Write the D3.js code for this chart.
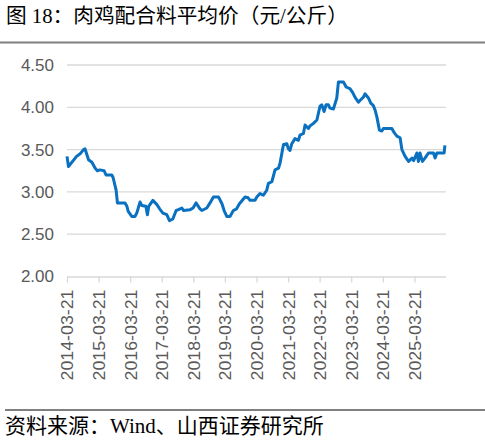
<!DOCTYPE html>
<html><head><meta charset="utf-8">
<script src="https://cdn.jsdelivr.net/npm/d3@7"></script>
<style>body{margin:0;background:#fff}svg{display:block}</style>
</head><body>
<script>
const dates = ["2014-03-21","2014-04-07","2014-07-10","2014-08-20","2014-09-28","2014-10-15","2014-11-25","2015-01-03","2015-02-10","2015-03-07","2015-04-05","2015-05-24","2015-06-15","2015-08-21","2015-09-05","2015-10-10","2015-10-25","2016-01-21","2016-02-12","2016-02-27","2016-04-08","2016-05-15","2016-06-05","2016-07-12","2016-08-02","2016-09-18","2016-10-06","2016-10-21","2016-12-08","2017-01-24","2017-02-24","2017-04-03","2017-05-18","2017-06-18","2017-07-27","2017-09-03","2017-09-30","2017-11-08","2017-11-27","2018-02-12","2018-03-18","2018-04-21","2018-06-06","2018-06-27","2018-08-24","2018-09-30","2018-11-08","2019-01-06","2019-02-15","2019-03-12","2019-04-12","2019-05-19","2019-06-27","2019-08-03","2019-09-05","2019-11-09","2019-12-15","2020-01-06","2020-03-03","2020-03-24","2020-04-30","2020-06-08","2020-07-17","2020-08-05","2020-09-14","2020-10-21","2020-11-30","2020-12-18","2021-01-21","2021-01-27","2021-03-06","2021-03-24","2021-04-12","2021-05-03","2021-06-09","2021-07-18","2021-08-05","2021-09-14","2021-10-03","2021-11-11","2021-11-30","2022-01-08","2022-02-17","2022-03-24","2022-04-14","2022-05-11","2022-06-03","2022-06-30","2022-07-18","2022-08-27","2022-10-05","2022-10-24","2022-12-21","2023-01-21","2023-03-06","2023-04-09","2023-05-03","2023-06-12","2023-06-30","2023-08-09","2023-08-27","2023-10-06","2023-11-02","2023-12-02","2023-12-21","2024-01-11","2024-02-10","2024-03-09","2024-03-27","2024-07-03","2024-07-30","2024-08-30","2024-10-06","2024-10-27","2024-12-03","2025-01-12","2025-02-21","2025-03-12","2025-04-18","2025-05-06","2025-05-24","2025-06-21","2025-07-21","2025-08-30","2025-10-27","2025-11-15","2025-12-06","2026-02-28","2026-03-08"];
const prices = [3.42,3.30,3.42,3.45,3.50,3.51,3.38,3.35,3.28,3.25,3.26,3.25,3.20,3.20,3.17,3.02,2.87,2.87,2.83,2.77,2.71,2.71,2.75,2.88,2.84,2.83,2.73,2.83,2.90,2.85,2.80,2.75,2.73,2.66,2.68,2.78,2.79,2.81,2.78,2.79,2.81,2.87,2.80,2.78,2.81,2.87,2.94,2.94,2.86,2.78,2.71,2.71,2.78,2.80,2.86,2.94,2.93,2.90,2.90,2.94,2.98,2.96,3.02,3.10,3.12,3.26,3.28,3.34,3.53,3.56,3.57,3.51,3.49,3.57,3.63,3.61,3.67,3.69,3.79,3.75,3.78,3.81,3.85,4.01,4.03,3.95,4.03,4.03,3.99,3.98,4.11,4.30,4.30,4.24,4.22,4.17,4.12,4.06,4.08,4.12,4.16,4.11,4.05,4.02,3.97,3.89,3.73,3.72,3.75,3.75,3.70,3.66,3.64,3.50,3.42,3.36,3.40,3.37,3.46,3.36,3.46,3.36,3.40,3.46,3.46,3.40,3.46,3.46,3.55];
const xTickLabels = ["2014-03-21","2015-03-21","2016-03-21","2017-03-21","2018-03-21","2019-03-21","2020-03-21","2021-03-21","2022-03-21","2023-03-21","2024-03-21","2025-03-21"];
const yTicks = [2.00,2.50,3.00,3.50,4.00,4.50];
const titleText = "图 18：肉鸡配合料平均价（元/公斤）";
const sourceText = "资料来源：Wind、山西证券研究所";

const W = 485, H = 441;
const parse = d3.timeParse("%Y-%m-%d");
const data = dates.map((d,i)=>({date: parse(d), v: prices[i]}));

const svg = d3.select("body").append("svg").attr("width",W).attr("height",H);

const x = d3.scaleTime().domain([parse("2014-03-21"), parse("2026-03-21")]).range([67,446]);
const y = d3.scaleLinear().domain([2,4.5]).range([276.5,65]);

// title
svg.append("text").attr("x",6).attr("y",22.5)
  .style("font-family","'Liberation Serif','Noto Sans CJK SC',serif")
  .style("font-size","20.7px").attr("fill","#000").text(titleText);
svg.append("line").attr("x1",0).attr("x2",W).attr("y1",42.5).attr("y2",42.5)
  .attr("stroke","#808080").attr("stroke-width",2);

// grid
svg.append("g").selectAll("line").data(yTicks.slice(1)).join("line")
  .attr("x1",67).attr("x2",446).attr("y1",d=>y(d)).attr("y2",d=>y(d))
  .attr("stroke","#d9d9d9").attr("stroke-width",1.3);

// y axis labels
const yAxis = svg.append("g").attr("transform","translate(54,0)")
  .call(d3.axisLeft(y).tickValues(yTicks).tickFormat(d3.format(".2f")).tickSize(0).tickPadding(0));
yAxis.select(".domain").remove();
yAxis.selectAll("text").attr("fill","#595959")
  .style("font-family","'Liberation Sans',Arial,sans-serif").style("font-size","17px");

// x axis
const xAxis = svg.append("g").attr("transform","translate(0,276.5)")
  .call(d3.axisBottom(x).tickValues(xTickLabels.map(parse)).tickFormat(d3.timeFormat("%Y-%m-%d")).tickSize(6).tickSizeOuter(0));
xAxis.select(".domain").attr("stroke","#d9d9d9").attr("stroke-width",1.3).attr("d","M67,0.5H446");
xAxis.selectAll(".tick line").attr("stroke","#d9d9d9").attr("stroke-width",1.3);
xAxis.selectAll("text").attr("fill","#595959")
  .style("font-family","'Liberation Sans',Arial,sans-serif").style("font-size","17px")
  .attr("transform","rotate(-90)").attr("text-anchor","end")
  .attr("x",-13).attr("y",0).attr("dy","0.35em")
  .attr("textLength",91).attr("lengthAdjust","spacingAndGlyphs");

// line
svg.append("path").datum(data)
  .attr("fill","none").attr("stroke","#0a70c0").attr("stroke-width",3)
  .attr("stroke-linejoin","round")
  .attr("d", d3.line().x(d=>x(d.date)).y(d=>y(d.v)));

// source
svg.append("line").attr("x1",5).attr("x2",W).attr("y1",410).attr("y2",410)
  .attr("stroke","#000").attr("stroke-width",1);
svg.append("text").attr("x",5).attr("y",433)
  .style("font-family","'Liberation Serif','Noto Sans CJK SC',serif")
  .style("font-size","21px").attr("fill","#000").text(sourceText);
</script>
</body></html>
